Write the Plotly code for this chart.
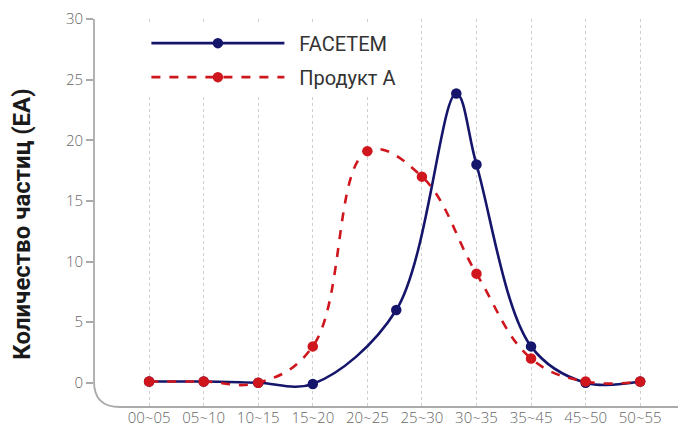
import plotly.graph_objects as go

categories = ["00~05", "05~10", "10~15", "15~20", "20~25", "25~30", "30~35", "35~45", "45~50", "50~55"]

facetem_pos = [0, 1, 2, 3, 4.53, 5.63, 6, 7, 8, 9]
facetem_val = [0.1, 0.1, 0.0, -0.1, 6.0, 23.85, 18.0, 3.0, 0.0, 0.1]

produkt_pos = [0, 1, 2, 3, 4, 5, 6, 7, 8, 9]
produkt_val = [0.1, 0.1, 0.0, 3.0, 19.1, 17.0, 9.0, 2.0, 0.1, 0.1]

y_ticks = [0, 5, 10, 15, 20, 25, 30]

NAVY = "#15156b"
RED = "#d0161d"

fig = go.Figure()
fig.add_trace(go.Scatter(
    x=facetem_pos, y=facetem_val, name="\u00a0\u00a0FACETEM", mode="lines+markers",
    line=dict(color=NAVY, width=2.6, shape="spline", smoothing=1.0),
    marker=dict(color=NAVY, size=10.5), legendgroup="a",
))
fig.add_trace(go.Scatter(
    x=produkt_pos, y=produkt_val, name="\u00a0\u00a0Продукт A", mode="lines+markers",
    line=dict(color=RED, width=2.6, dash="dash", shape="spline", smoothing=1.15),
    marker=dict(color=RED, size=10.5), legendgroup="b",
))

xtick_font = dict(family="Open Sans, DejaVu Sans, sans-serif", size=15, color="#666666", weight=300)
ytick_font = dict(family="Open Sans, DejaVu Sans, sans-serif", size=15, color="#666666", weight=300)

# page body adds an 8px offset: margins are compensated for that
fig.update_layout(
    width=686, height=432,
    margin=dict(l=86, r=8, t=11, b=33),
    paper_bgcolor="white", plot_bgcolor="white",
    showlegend=True,
    legend=dict(
        x=0.0885, y=0.988, xanchor="left", yanchor="top",
        bgcolor="white", borderwidth=0,
        font=dict(family="Roboto, sans-serif", size=20, color="#333333"),
        itemwidth=133, tracegroupgap=5, traceorder="grouped",
    ),
    xaxis=dict(
        range=[-1.01, 9.84], tickmode="array",
        tickvals=list(range(len(categories))), ticktext=categories,
        showgrid=True, gridcolor="#cfcfcf", griddash="dot", gridwidth=1,
        zeroline=False, showline=False, ticks="", tickfont=xtick_font,
        automargin=False, ticklabeloverflow="allow",
    ),
    yaxis=dict(
        range=[-2, 30.0], tickmode="array", tickvals=y_ticks,
        showgrid=False, zeroline=False, showline=False,
        ticks="outside", ticklen=7, tickcolor="#aaaaaa", tickwidth=1.5,
        tickfont=ytick_font, automargin=False, ticklabeloverflow="allow",
    ),
    annotations=[dict(
        text="Количество частиц (EA)", textangle=-90,
        xref="paper", yref="paper", x=-0.1216, y=0.47,
        xanchor="center", yanchor="middle", showarrow=False,
        font=dict(family="Roboto, sans-serif", size=24, color="#1a1a1a", weight="bold"),
    )],
    shapes=[dict(
        type="path", xref="paper", yref="paper",
        path="M 0,1 L 0,0.066 Q 0,0 0.044,0 L 1,0",
        line=dict(color="#aaaaaa", width=1.8), layer="below",
    )],
)

fig.write_html("out.html")
